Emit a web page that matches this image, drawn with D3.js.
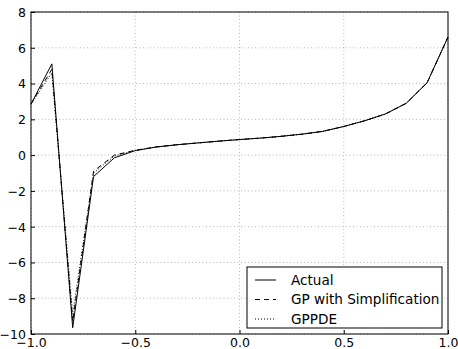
<!DOCTYPE html>
<html>
<head>
<meta charset="utf-8">
<script src="https://cdn.jsdelivr.net/npm/d3@7"></script>
<style>
  body { margin: 0; background: #fff; }
  text { font-family: "DejaVu Sans", sans-serif; }
</style>
</head>
<body>
<svg id="chart" width="458" height="349"></svg>
<script>
// values
var xs = [-1, -0.9, -0.8, -0.7, -0.6, -0.5, -0.4, -0.3, -0.2, -0.1, 0,
          0.1, 0.2, 0.3, 0.4, 0.5, 0.6, 0.7, 0.8, 0.9, 1];
var actual = [2.85, 5.1, -9.65, -1.2, -0.15, 0.25, 0.45, 0.58, 0.68, 0.78, 0.87,
              0.95, 1.05, 1.17, 1.33, 1.6, 1.92, 2.3, 2.9, 4.05, 6.6];
var gpSimp = [2.85, 4.8, -9.3, -0.9, 0.0, 0.27, 0.46, 0.58, 0.68, 0.78, 0.87,
              0.95, 1.05, 1.17, 1.33, 1.6, 1.92, 2.3, 2.9, 4.05, 6.6];
var gppde = [2.85, 4.6, -8.9, -1.0, -0.05, 0.26, 0.45, 0.58, 0.68, 0.78, 0.87,
             0.95, 1.05, 1.17, 1.33, 1.6, 1.92, 2.3, 2.9, 4.05, 6.6];
var xTicks = [-1, -0.5, 0, 0.5, 1];
var yTicks = [-10, -8, -6, -4, -2, 0, 2, 4, 6, 8];
var seriesNames = ["Actual", "GP with Simplification", "GPPDE"];

var margin = {top: 12, right: 10, bottom: 15, left: 31};
var width = 458 - margin.left - margin.right;
var height = 349 - margin.top - margin.bottom;

var svg = d3.select("#chart")
  .append("g")
    .attr("transform", "translate(" + margin.left + "," + margin.top + ")");

var x = d3.scaleLinear().domain([-1, 1]).range([0, width]);
var y = d3.scaleLinear().domain([-10, 8]).range([height, 0]);

// grid
svg.append("g").selectAll("line.gx")
  .data(xTicks).enter().append("line")
    .attr("x1", function(d) { return x(d); })
    .attr("x2", function(d) { return x(d); })
    .attr("y1", 0).attr("y2", height)
    .attr("stroke", "#999").attr("stroke-width", 0.7)
    .attr("stroke-dasharray", "1,2.5");
svg.append("g").selectAll("line.gy")
  .data(yTicks).enter().append("line")
    .attr("y1", function(d) { return y(d); })
    .attr("y2", function(d) { return y(d); })
    .attr("x1", 0).attr("x2", width)
    .attr("stroke", "#999").attr("stroke-width", 0.7)
    .attr("stroke-dasharray", "1,2.5");

var fmt = function(d) { return (d < 0 ? "\u2212" : "") + d3.format(".1f")(Math.abs(d)); };
var fmtY = function(d) { return (d < 0 ? "\u2212" : "") + Math.abs(d); };

var xAxis = d3.axisBottom(x).tickValues(xTicks).tickFormat(fmt)
  .tickSizeInner(-4).tickSizeOuter(0).tickPadding(6);
var yAxis = d3.axisLeft(y).tickValues(yTicks).tickFormat(fmtY)
  .tickSizeInner(-4).tickSizeOuter(0).tickPadding(5);

var gx = svg.append("g").attr("transform", "translate(0," + height + ")").call(xAxis);
var gy = svg.append("g").call(yAxis);
[gx, gy].forEach(function(g) {
  g.select(".domain").remove();
  g.selectAll("text").attr("font-size", 12.5).attr("fill", "#000")
    .style("font-family", "DejaVu Sans, sans-serif");
  g.selectAll("line").attr("stroke", "#000");
});
gx.selectAll("text").attr("dy", "0.55em");
gy.selectAll("text").attr("dy", "0.35em");

// lines
var line = d3.line()
  .x(function(d, i) { return x(xs[i]); })
  .y(function(d) { return y(d); });

var styles = [null, "5,4", "1,2"];
[actual, gpSimp, gppde].forEach(function(s, i) {
  svg.append("path")
    .datum(s)
    .attr("d", line)
    .attr("fill", "none")
    .attr("stroke", "#000")
    .attr("stroke-width", 1)
    .attr("stroke-dasharray", styles[i]);
});

// frame
svg.append("rect")
  .attr("width", width).attr("height", height)
  .attr("fill", "none").attr("stroke", "#000").attr("stroke-width", 1);

// legend
var lg = svg.append("g").attr("transform", "translate(" + (247 - margin.left) + "," + (267 - margin.top) + ")");
lg.append("rect")
  .attr("width", 195).attr("height", 61)
  .attr("fill", "#fff").attr("stroke", "#000").attr("stroke-width", 1);
seriesNames.forEach(function(name, i) {
  var yy = 13 + i * 19.5;
  lg.append("line")
    .attr("x1", 8).attr("x2", 29).attr("y1", yy).attr("y2", yy)
    .attr("stroke", "#000").attr("stroke-width", 1)
    .attr("stroke-dasharray", styles[i]);
  lg.append("text")
    .attr("x", 44).attr("y", yy).attr("dy", "0.35em")
    .attr("font-size", 13.6).text(name);
});
</script>
</body>
</html>
